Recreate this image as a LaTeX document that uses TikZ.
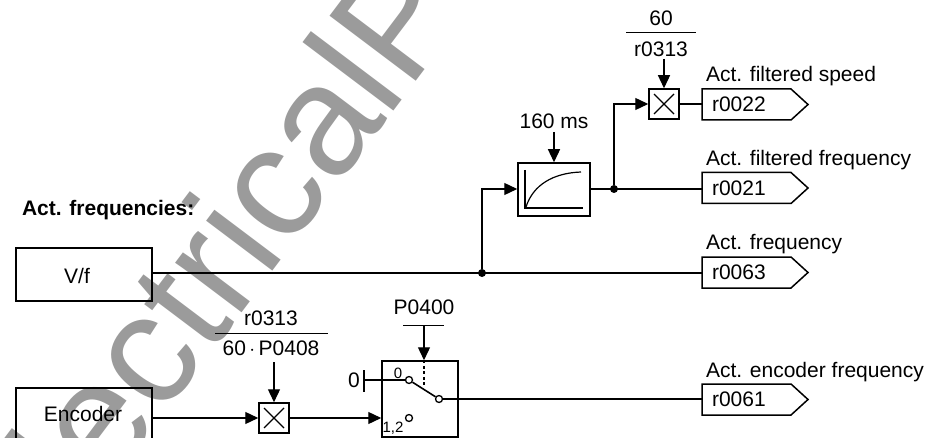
\documentclass[tikz,border=0pt]{standalone}
\usepackage{fontspec}
\setmainfont{Liberation Sans}
\usetikzlibrary{arrows.meta,calc}
\definecolor{wm}{HTML}{9B9B9B}
\tikzset{
  x=1pt,y=-1pt,
  wire/.style={line width=1.3pt},
  arr/.style={wire,-{Triangle[length=13pt,width=12pt]}},
  blockbox/.style={draw,line width=1.5pt,inner sep=0pt,font=\fontsize{21}{24}\selectfont},
  mulbox/.style={draw,line width=1.5pt,inner sep=0pt,minimum size=30pt},
  txt/.style={inner sep=0pt,outer sep=0pt,font=\fontsize{21}{24}\selectfont},
  smalltxt/.style={inner sep=0pt,outer sep=0pt,font=\fontsize{15}{17}\selectfont},
  tagbody/.style={inner sep=0pt,outer sep=0pt,minimum width=89pt,minimum height=31pt,text width=79pt,align=left,font=\fontsize{21}{24}\selectfont},
  dot/.style={circle,fill=black,inner sep=0pt,minimum size=8pt},
  contact/.style={circle,draw,fill=white,line width=1.3pt,inner sep=0pt,minimum size=7pt},
  bar/.style={line width=1pt}
}
\newcommand{\outtag}[4]{% name, y, code, title
  \node[tagbody,anchor=west] (#1) at (702,#2) {\hspace*{5pt}#3};
  \draw[line width=1.5pt,line join=miter] (#1.south west) -- (#1.north west) -- (#1.north east) -- ($(#1.east)+(17,0)$) -- (#1.south east) -- cycle;
  \node[txt,anchor=base west] (#1title) at (706,{#2-22.5}) {#4};
}
\newcommand{\crossmark}[1]{%
  \draw[line width=1.3pt] ($(#1)+(-10,-10)$) -- ($(#1)+(10,10)$) ($(#1)+(-10,10)$) -- ($(#1)+(10,-10)$);
}
\begin{document}
\begin{tikzpicture}
\useasboundingbox (0,0) rectangle (928,438);
\begin{scope}
\clip (0,0) rectangle (928,438);
\node[wm,inner sep=0pt,outer sep=0pt,anchor=base west,rotate=53,font=\fontsize{157}{157}\selectfont] (mark) at (25.4,600) {ElectricalP};
\draw[line width=1.5pt] (16,388) rectangle (152,445);
\end{scope}

\node[txt,anchor=base west,font=\fontsize{21}{24}\selectfont\bfseries] (title) at (22,216) {Act. frequencies:};

\node[blockbox,minimum width=136pt,minimum height=53pt] (vf) at (84,274.5) {};
\node[txt] (vftext) at (77,276) {V/f};
\coordinate (enc) at (152,418);
\node[txt] (enctext) at (83,414) {Encoder};

% filter
\node[draw,line width=1.5pt,minimum width=72pt,minimum height=53pt,inner sep=0pt] (filter) at (554,189.5) {};
\draw[line width=1.2pt] (525,170) -- (525,208) -- (583,208);
\draw[line width=1.2pt] (526,207) .. controls (533,185) and (553,173) .. (581,172);
\node[txt] (ms) at (554,121) {160 ms};
\coordinate (msb) at (554,132);
\draw[arr] (msb) -- (filter.north -| msb);

% multiplier top
\node[mulbox] (m2) at (664,104) {};
\crossmark{m2}
\node[txt] (n60) at (661,18) {60};
\node[txt] (r313a) at (661,49) {r0313};
\coordinate (fa1) at (626,33); \coordinate (fa2) at (696,33);
\draw[bar] (fa1) -- (fa2);
\coordinate (m2in) at (664,59);
\draw[arr] (m2in) -- (m2.north);

% multiplier bottom
\node[mulbox] (m1) at (274,418) {};
\crossmark{m1}
\node[txt] (r313b) at (271,318) {r0313};
\node[txt] (p408) at (271,348) {60\,$\cdot$\,P0408};
\coordinate (fb1) at (215,333); \coordinate (fb2) at (328,333);
\draw[bar] (fb1) -- (fb2);
\coordinate (m1in) at (274,362);
\draw[arr] (m1in) -- (m1.north);

% switch
\node[draw,line width=1.5pt,minimum width=76pt,minimum height=76pt,inner sep=0pt] (sw) at (420,399) {};
\node[txt] (p400) at (424,307) {P0400};
\coordinate (pb1) at (403,325); \coordinate (pb2) at (444,325); \coordinate (pm) at (424,325);
\draw[bar] (pb1) -- (pb2);
\draw[arr] (pm) -- (pm |- sw.north);
\coordinate (dashend) at (424,386);
\draw[line width=1.2pt,dash pattern=on 3pt off 2.5pt] (pm |- sw.north) -- (dashend);
\node[contact] (c0) at (409,380) {};
\node[contact] (c1) at (409,418) {};
\node[contact] (cc) at (439,399) {};
\draw[line width=1.6pt] (c0) -- (cc);
\node[txt] (zero) at (354,380) {0};
\coordinate (tick1) at (364,370); \coordinate (tick2) at (364,392);
\draw[wire] (tick1) -- (tick2);
\draw[wire] (tick1 |- c0) -- (c0);
\node[smalltxt] (l0) at (398,373) {0};
\node[smalltxt] (l12) at (393,428) {1,2};

% outputs
\outtag{r22}{104.5}{r0022}{Act. filtered speed}
\outtag{r21}{188}{r0021}{Act. filtered frequency}
\outtag{r63}{272.5}{r0063}{Act. frequency}
\outtag{r61}{399.5}{r0061}{Act. encoder frequency}

% connectors
\node[dot] (j1) at (482,273) {};
\node[dot] (j2) at (614,189) {};
\draw[wire] (vf.east |- j1) -- (r63.west |- j1);
\draw[arr] (j1) |- (filter.west |- j2);
\draw[wire] (filter.east |- j2) -- (r21.west |- j2);
\draw[arr] (j2) |- (m2.west);
\draw[wire] (m2.east) -- (r22.west |- m2.east);
\draw[arr] (enc) -- (m1.west);
\draw[arr] (m1.east) -- (sw.west |- m1.east);
\draw[wire] (cc) -- (r61.west |- cc);
\end{tikzpicture}
\end{document}
